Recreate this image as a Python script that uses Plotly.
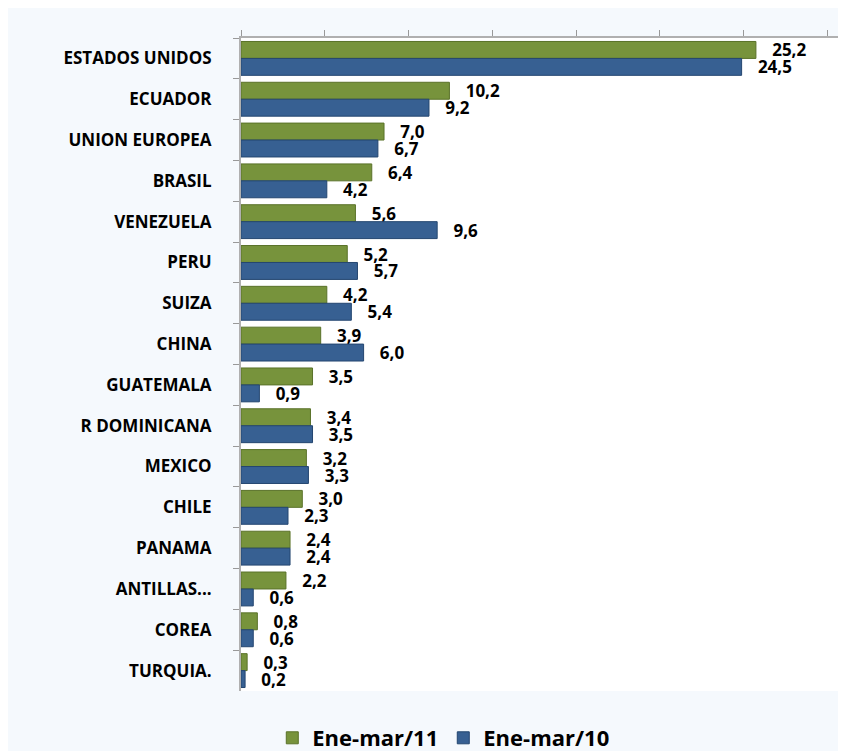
import plotly.graph_objects as go

paises = ["ESTADOS UNIDOS", "ECUADOR", "UNION EUROPEA", "BRASIL", "VENEZUELA",
          "PERU", "SUIZA", "CHINA", "GUATEMALA", "R DOMINICANA", "MEXICO",
          "CHILE", "PANAMA", "ANTILLAS...", "COREA", "TURQUIA."]
ene_mar_11 = [25.2, 10.2, 7.0, 6.4, 5.6, 5.2, 4.2, 3.9, 3.5, 3.4, 3.2, 3.0, 2.4, 2.2, 0.8, 0.3]
ene_mar_10 = [24.5, 9.2, 6.7, 4.2, 9.6, 5.7, 5.4, 6.0, 0.9, 3.5, 3.3, 2.3, 2.4, 0.6, 0.6, 0.2]

def fmt(v):
    return "   " + f"{v:.1f}".replace(".", ",")

fig = go.Figure()
fig.add_trace(go.Bar(
    y=paises, x=ene_mar_11, orientation="h", name="Ene-mar/11",
    marker=dict(color="#77933c", line=dict(color="#5a7229", width=1)),
    text=[fmt(v) for v in ene_mar_11], textposition="outside", constraintext="none",
    textfont=dict(size=17, color="black", family="Open Sans", weight="bold"),
    cliponaxis=False,
))
fig.add_trace(go.Bar(
    y=paises, x=ene_mar_10, orientation="h", name="Ene-mar/10",
    marker=dict(color="#376092", line=dict(color="#244670", width=1)),
    text=[fmt(v) for v in ene_mar_10], textposition="outside", constraintext="none",
    textfont=dict(size=17, color="black", family="Open Sans", weight="bold"),
    cliponaxis=False,
))

fig.update_layout(
    width=846, height=751,
    barmode="group", bargap=0.17, bargroupgap=0.0,
    margin=dict(l=233, r=0, t=30, b=64),
    paper_bgcolor="#f5f9fd", plot_bgcolor="white",
    font=dict(family="Open Sans", color="black"),
    showlegend=True,
    legend=dict(orientation="h", x=0.33, xanchor="center", y=-0.04, yanchor="top",
                font=dict(size=22, weight="bold"), bgcolor="rgba(0,0,0,0)",
                itemwidth=30, traceorder="normal"),
)
fig.update_xaxes(
    range=[0, 30.0], side="top", showticklabels=False, dtick=4.1,
    ticks="outside", ticklen=6, tickcolor="#999999",
    showline=True, linecolor="#b0b0b0", linewidth=2,
    showgrid=False, zeroline=False,
)
fig.update_yaxes(
    autorange="reversed", ticks="outside", tickson="boundaries", ticklen=6,
    tickcolor="#999999", showline=True, linecolor="#b0b0b0", linewidth=2,
    tickfont=dict(size=17, weight="bold", family="Open Sans"),
    ticklabelstandoff=24, showgrid=False,
)

fig.write_html("out.html")
